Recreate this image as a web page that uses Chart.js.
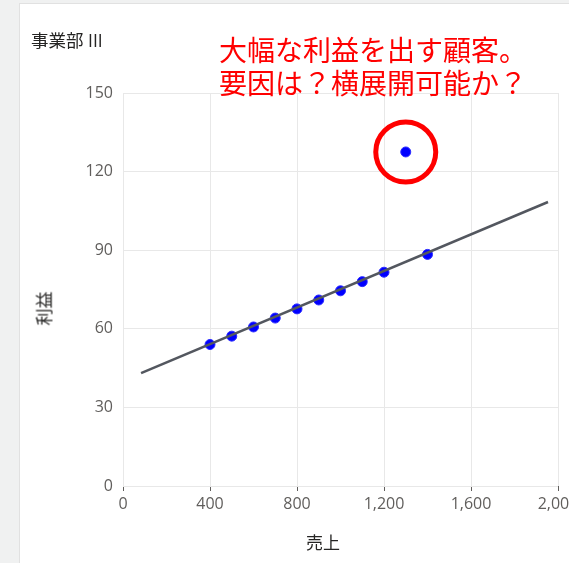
<!DOCTYPE html>
<html lang="ja">
<head>
<meta charset="utf-8">
<title>事業部 III</title>
<script src="https://cdn.jsdelivr.net/npm/chart.js@4.4.1/dist/chart.umd.min.js"></script>
<style>
  html, body { margin: 0; padding: 0; }
  body {
    width: 569px; height: 563px; overflow: hidden; position: relative;
    background: #f0f1f1;
    font-family: "Open Sans", "Noto Sans CJK JP", sans-serif;
  }
  .card {
    position: absolute; left: 19px; top: 3px; width: 600px; height: 600px;
    background: #fff; border: 1px solid #e1e1e1;
  }
  .wrap { position: absolute; left: 0; top: 0; width: 620px; height: 563px; }
  .title { position: absolute; left: 31px; top: 27px; font-size: 17.5px; color: #252423; }
  .memo {
    position: absolute; left: 219px; top: 33px; font-size: 28px; line-height: 33px;
    color: #ff0000; font-family: "Noto Sans CJK JP", sans-serif; white-space: nowrap;
  }
  .axis { position: absolute; font-size: 17px; color: #252423; font-family: "Noto Sans CJK JP", sans-serif; }
  .axis.x { left: 306px; top: 529px; }
  .axis.y { left: 26px; top: 296px; transform: rotate(-90deg); }
</style>
</head>
<body>
<div class="card"></div>
<div class="wrap"><canvas id="grafico"></canvas></div>
<div class="title">事業部 III</div>
<div class="memo">大幅な利益を出す顧客。<br>要因は？横展開可能か？</div>
<div class="axis x">売上</div>
<div class="axis y">利益</div>
<script>
// 顧客ごとの売上と利益
const uriage = [400, 500, 600, 700, 800, 900, 1000, 1100, 1200, 1400];
const rieki = [54, 57.2, 60.7, 64.1, 67.6, 71, 74.5, 78, 81.6, 88.4];

// 突出した顧客
const tokuUriage = [1300];
const tokuRieki = [127.5];

// 近似直線の両端
const trendUriage = [83, 1954];
const trendRieki = [43.1, 108.4];

const toPoints = (xs, ys) => xs.map((x, i) => ({ x: x, y: ys[i] }));

Chart.defaults.font.family = "'Open Sans', 'Noto Sans CJK JP', sans-serif";

const ctx = document.getElementById("grafico").getContext("2d");

new Chart(ctx, {
  type: "scatter",
  data: {
    datasets: [
      {
        label: "近似直線",
        data: toPoints(trendUriage, trendRieki),
        showLine: true,
        borderColor: "#53575f",
        borderWidth: 2.5,
        pointRadius: 0
      },
      {
        label: "顧客",
        data: toPoints(uriage, rieki),
        pointRadius: 5,
        pointBackgroundColor: "#0000ff",
        pointBorderColor: "#2b2bff",
        pointBorderWidth: 1
      },
      {
        label: "注目顧客",
        data: toPoints(tokuUriage, tokuRieki),
        pointRadius: 5,
        pointBackgroundColor: "#0000ff",
        pointBorderColor: "#2b2bff",
        pointBorderWidth: 1
      },
      {
        label: "マーク",
        data: toPoints(tokuUriage, tokuRieki),
        pointRadius: 30,
        pointBackgroundColor: "rgba(0,0,0,0)",
        pointBorderColor: "#ff0000",
        pointBorderWidth: 5
      }
    ]
  },
  options: {
    responsive: true,
    maintainAspectRatio: false,
    animation: false,
    layout: { padding: { top: 93, right: 62, bottom: 0, left: 0 } },
    plugins: {
      legend: { display: false },
      tooltip: { enabled: false }
    },
    scales: {
      x: {
        type: "linear",
        min: 0,
        max: 2000,
        ticks: { stepSize: 400, color: "#605e5c", font: { size: 16 }, padding: 4 },
        grid: { color: "#e8e8e8", tickColor: "#605e5c", tickLength: 5 },
        border: { display: false },
        afterFit: s => { s.height = 77; }
      },
      y: {
        min: 0,
        max: 150,
        ticks: { stepSize: 30, color: "#605e5c", font: { size: 16 }, padding: 10 },
        grid: { color: "#e8e8e8", drawTicks: false },
        border: { display: false },
        afterFit: s => { s.width = 123; }
      }
    }
  }
});
</script>
</body>
</html>
